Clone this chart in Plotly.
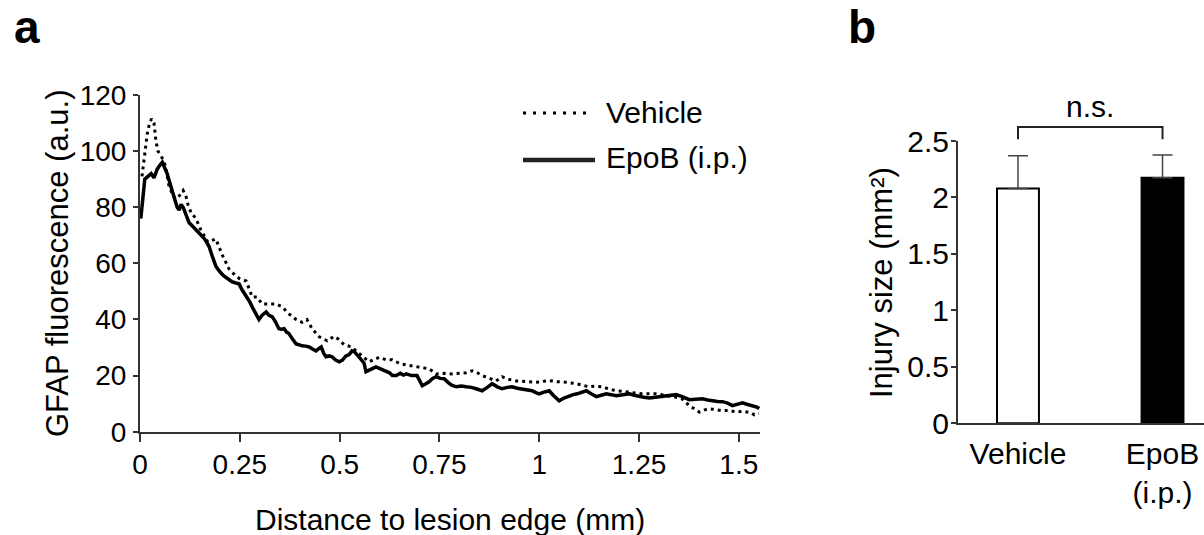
import plotly.graph_objects as go

W, H = 1204, 535

# ---------------- data: panel a (GFAP profile) ----------------
dist_epob = [0.002, 0.008, 0.012, 0.02, 0.028, 0.035, 0.043, 0.05, 0.056, 0.062, 0.068, 0.073, 0.08, 0.088,
             0.093, 0.098, 0.103, 0.108, 0.115, 0.123, 0.13, 0.14, 0.147, 0.153, 0.16, 0.165, 0.173, 0.18,
             0.19, 0.2, 0.21, 0.22, 0.23, 0.24, 0.248, 0.256, 0.266, 0.274, 0.281, 0.29, 0.298, 0.306, 0.316,
             0.323, 0.331, 0.34, 0.348, 0.355, 0.361, 0.367, 0.373, 0.382, 0.391, 0.398, 0.406, 0.415, 0.424,
             0.432, 0.441, 0.447, 0.454, 0.46, 0.466, 0.474, 0.481, 0.49, 0.499, 0.507, 0.516, 0.524, 0.531,
             0.537, 0.543, 0.549, 0.555, 0.561, 0.566, 0.574, 0.582, 0.591, 0.6, 0.608, 0.617, 0.625, 0.632,
             0.642, 0.652, 0.66, 0.667, 0.68, 0.694, 0.7, 0.707, 0.715, 0.724, 0.733, 0.742, 0.752, 0.762,
             0.772, 0.782, 0.792, 0.805, 0.817, 0.83, 0.842, 0.857, 0.87, 0.882, 0.895, 0.907, 0.92, 0.932,
             0.945, 0.957, 0.97, 0.982, 0.99, 1.0, 1.01, 1.025, 1.035, 1.05, 1.062, 1.075, 1.085, 1.095,
             1.107, 1.118, 1.13, 1.143, 1.155, 1.168, 1.18, 1.193, 1.21, 1.226, 1.238, 1.25, 1.262, 1.276,
             1.29, 1.308, 1.325, 1.343, 1.358, 1.376, 1.392, 1.409, 1.422, 1.434, 1.447, 1.459, 1.472, 1.484,
             1.497, 1.509, 1.52, 1.534, 1.545, 1.551]
gfap_epob = [76, 86, 90, 91, 92, 90.5, 93.5, 95, 96, 94, 92, 89.5, 86, 82,
             80, 79, 81, 80, 77, 74.5, 73.5, 72, 71, 70.5, 69, 68, 66, 63,
             59, 57, 55.5, 54.5, 53.5, 53, 52.7, 50.5, 48.4, 46.5, 44.5, 42, 40, 41.5, 42.7,
             41.5, 41, 39, 36.7, 36.5, 36.7, 35.5, 35, 33, 31.3, 31, 30.6, 30.5, 30.2,
             29.5, 28.8, 29.5, 30.2, 28, 26.7, 27, 26.7, 25.5, 24.9, 25.5, 27, 27.5, 28.8,
             28.5, 27.5, 26.7, 25.5, 24.5, 21.4, 21.8, 22.5, 23.1, 22.5, 22, 21.7, 21, 20,
             20, 20.8, 20.2, 20.6, 20, 20, 18, 16.4, 17, 17.8, 19, 19.6, 19, 18.9,
             17.5, 16.5, 16, 16.3, 16, 15.8, 15.3, 14.6, 15.8, 17.1, 16, 15.3, 15.8, 16,
             15.5, 15.3, 15, 14.6, 14, 13.5, 14, 14.6, 13, 11, 12, 12.8, 13.2, 13.5,
             14, 14.6, 13.5, 12.5, 13, 13.5, 13.2, 12.8, 13.2, 13.5, 13, 12.5, 12.3, 12,
             12.3, 12.5, 12.8, 13.2, 12.5, 11.4, 11.6, 11.7, 11.3, 11, 10.8, 10.7, 10.2, 9.3,
             9.8, 10.3, 9.8, 9.3, 8.8, 8.2]

dist_vehicle = [0.005, 0.012, 0.018, 0.024, 0.029, 0.035, 0.04, 0.045, 0.053, 0.058, 0.065, 0.072, 0.08,
                0.088, 0.098, 0.103, 0.108, 0.115, 0.12, 0.128, 0.14, 0.152, 0.17, 0.19, 0.206, 0.223,
                0.24, 0.25, 0.266, 0.281, 0.293, 0.306, 0.323, 0.341, 0.356, 0.373, 0.391, 0.406, 0.418,
                0.431, 0.449, 0.469, 0.486, 0.497, 0.511, 0.53, 0.548, 0.566, 0.574, 0.587, 0.599, 0.617,
                0.632, 0.652, 0.667, 0.685, 0.699, 0.724, 0.742, 0.762, 0.782, 0.8, 0.817, 0.832, 0.845,
                0.857, 0.875, 0.892, 0.907, 0.92, 0.942, 0.96, 0.975, 0.99, 1.008, 1.02, 1.033, 1.045,
                1.058, 1.075, 1.093, 1.11, 1.125, 1.14, 1.158, 1.175, 1.193, 1.21, 1.226, 1.24, 1.258,
                1.275, 1.293, 1.31, 1.326, 1.343, 1.358, 1.368, 1.376, 1.39, 1.401, 1.415, 1.426, 1.44,
                1.459, 1.475, 1.494, 1.51, 1.519, 1.53, 1.539, 1.55]
gfap_vehicle = [91, 100, 106, 110, 111.5, 110, 103.5, 100, 98, 97, 94, 88, 85,
                83, 84, 85, 86, 84, 81, 78, 76, 72, 67.6, 68.7, 63, 58,
                55.5, 54.5, 53.7, 48, 48, 45.5, 45.5, 45.5, 44.5, 42, 40, 39, 40,
                36.7, 33.8, 32.4, 34, 33, 31, 30.2, 28, 26, 24.9, 25.8, 26.5, 25.6,
                25.6, 24.2, 23.8, 23.3, 23, 22.4, 20.6, 20.8, 20.6, 20.8, 21, 21.7, 21,
                20, 19, 18.1, 19.6, 18.8, 18.1, 18, 17.8, 17.6, 17.8, 18.3, 18.1, 17.8,
                17.8, 17.5, 17.1, 16.5, 16, 16.2, 16, 15.2, 14.6, 14.4, 14.2, 13.8, 13.5,
                13.4, 13.5, 13.1, 12.8, 12.3, 11.7, 10.5, 9.3, 8, 7, 7.8, 8.2, 7.9,
                7.5, 7.6, 7, 7.3, 7, 6.8, 6, 6.5]

x_ticks_a = [0, 0.25, 0.5, 0.75, 1, 1.25, 1.5]
x_ticktext_a = ["0", "0.25", "0.5", "0.75", "1", "1.25", "1.5"]
y_ticks_a = [0, 20, 40, 60, 80, 100, 120]

# ---------------- data: panel b (injury size) ----------------
groups = ["Vehicle", "EpoB<br>(i.p.)"]
group_pos = [0, 1]
injury_mean = [2.08, 2.175]
injury_sem = [0.29, 0.20]
y_ticks_b = [0, 0.5, 1, 1.5, 2, 2.5]
y_ticktext_b = ["0", "0.5", "1", "1.5", "2", "2.5"]

FONT = "Liberation Sans, Arial, Helvetica, sans-serif"
AX = "#333333"


def px_x(p):
    return p / W


def px_y(p):
    return 1 - p / H


# panel b geometry (pixels)
B_BOTTOM, B_TOP, B_EXT_TOP = 423.3, 141.0, 60.0
B_YMAX = 2.5
B_YMAX_EXT = B_YMAX * (B_BOTTOM - B_EXT_TOP) / (B_BOTTOM - B_TOP)

fig = go.Figure()

fig.add_trace(go.Scatter(x=dist_vehicle, y=gfap_vehicle, mode="lines", name="Vehicle",
                         line=dict(color="black", width=3, dash="3px,4px"),
                         xaxis="x", yaxis="y"))
fig.add_trace(go.Scatter(x=dist_epob, y=gfap_epob, mode="lines", name="EpoB (i.p.)",
                         line=dict(color="black", width=3.5),
                         xaxis="x", yaxis="y"))

fig.add_trace(go.Bar(x=group_pos, y=injury_mean, width=0.29,
                     marker=dict(color=["white", "black"], line=dict(color="black", width=2)),
                     error_y=dict(type="data", array=injury_sem, arrayminus=[0, 0], symmetric=False,
                                  color="#444444", thickness=1.5, width=10),
                     xaxis="x2", yaxis="y2"))

# significance bracket (from bar positions and error tops) on an extended, hidden y scale
top = max(m + s for m, s in zip(injury_mean, injury_sem))
b_low = top + 0.14
b_high = top + 0.25
fig.add_trace(go.Scatter(x=[group_pos[0], group_pos[0], group_pos[1], group_pos[1]],
                         y=[b_low, b_high, b_high, b_low], mode="lines",
                         line=dict(color="#222222", width=2),
                         xaxis="x2", yaxis="y3", hoverinfo="skip"))

tickfont_a = dict(family=FONT, size=28, color="black")
tickfont_b = dict(family=FONT, size=30, color="black")

fig.update_layout(
    template="none",
    width=W, height=H, margin=dict(l=0, r=0, t=0, b=0, pad=0),
    paper_bgcolor="white", plot_bgcolor="rgba(0,0,0,0)", showlegend=False,
    font=dict(family=FONT, color="black"),
    xaxis=dict(domain=[px_x(140), px_x(760)], range=[0, 1.553], anchor="y", automargin=False,
               tickvals=x_ticks_a, ticktext=x_ticktext_a, ticks="outside", ticklen=8,
               tickwidth=2, tickcolor=AX, showline=True, linecolor=AX, linewidth=2,
               showgrid=False, zeroline=False, tickfont=tickfont_a, ticklabelstandoff=-1),
    yaxis=dict(domain=[px_y(431.7), px_y(95)], range=[0, 120], anchor="x", automargin=False,
               tickvals=y_ticks_a, ticks="outside", ticklen=5, tickwidth=2, tickcolor=AX,
               showline=True, linecolor=AX, linewidth=2, showgrid=False, zeroline=False,
               tickfont=tickfont_a, ticklabelstandoff=1),
    xaxis2=dict(domain=[px_x(958), 1.0], range=[-0.415, 1.287], anchor="y2", automargin=False,
                tickvals=group_pos, ticktext=groups, ticks="", showline=True, linecolor=AX,
                linewidth=2, showgrid=False, zeroline=False, tickfont=tickfont_b,
                ticklabelstandoff=3),
    yaxis2=dict(domain=[px_y(B_BOTTOM), px_y(B_TOP)], range=[0, B_YMAX], anchor="x2",
                automargin=False,
                tickvals=y_ticks_b, ticktext=y_ticktext_b, ticks="outside", ticklen=5,
                tickwidth=2, tickcolor=AX, showline=True, linecolor=AX, linewidth=2,
                showgrid=False, zeroline=False, tickfont=tickfont_b, ticklabelstandoff=-4),
    yaxis3=dict(domain=[px_y(B_BOTTOM), px_y(B_EXT_TOP)], range=[0, B_YMAX_EXT], anchor="x2",
                visible=False, automargin=False, showgrid=False, zeroline=False),
)

ann = []
# panel labels
ann.append(dict(text="<b>a</b>", x=px_x(12), y=px_y(27), xref="paper", yref="paper",
                xanchor="left", yanchor="middle", showarrow=False,
                font=dict(family=FONT, size=46, color="black")))
ann.append(dict(text="<b>b</b>", x=px_x(846), y=px_y(27), xref="paper", yref="paper",
                xanchor="left", yanchor="middle", showarrow=False,
                font=dict(family=FONT, size=46, color="black")))
# axis titles
ann.append(dict(text="GFAP fluorescence (a.u.)", x=px_x(58), y=px_y(264), xref="paper",
                yref="paper", textangle=-90, xanchor="center", yanchor="middle",
                showarrow=False, font=dict(family=FONT, size=31, color="black")))
ann.append(dict(text="Distance to lesion edge (mm)", x=px_x(450), y=px_y(519.5), xref="paper",
                yref="paper", xanchor="center", yanchor="middle", showarrow=False,
                font=dict(family=FONT, size=30, color="black")))
ann.append(dict(text="Injury size (mm²)", x=px_x(881), y=px_y(283), xref="paper",
                yref="paper", textangle=-90, xanchor="center", yanchor="middle",
                showarrow=False, font=dict(family=FONT, size=31, color="black")))
# legend
ann.append(dict(text="Vehicle", x=px_x(604), y=px_y(112.6), xref="paper", yref="paper",
                xanchor="left", yanchor="middle", showarrow=False,
                font=dict(family=FONT, size=30, color="black")))
ann.append(dict(text="EpoB (i.p.)", x=px_x(604), y=px_y(157.6), xref="paper", yref="paper",
                xanchor="left", yanchor="middle", showarrow=False,
                font=dict(family=FONT, size=30, color="black")))
# n.s.
ann.append(dict(text="n.s.", x=(group_pos[0] + group_pos[1]) / 2, y=b_high, xref="x2", yref="y3",
                xanchor="center", yanchor="bottom", yshift=2, showarrow=False,
                font=dict(family=FONT, size=30, color="black")))
fig.update_layout(annotations=ann)

shapes = [
    dict(type="line", xref="paper", yref="paper", x0=px_x(523), x1=px_x(593),
         y0=px_y(113), y1=px_y(113), line=dict(color="black", width=3, dash="3px,7px")),
    dict(type="line", xref="paper", yref="paper", x0=px_x(523), x1=px_x(595),
         y0=px_y(160), y1=px_y(160), line=dict(color="#222222", width=4.5)),
]
fig.update_layout(shapes=shapes)

fig.write_html("out.html", config={"displayModeBar": False},
               post_script="document.body.style.margin='0';")
